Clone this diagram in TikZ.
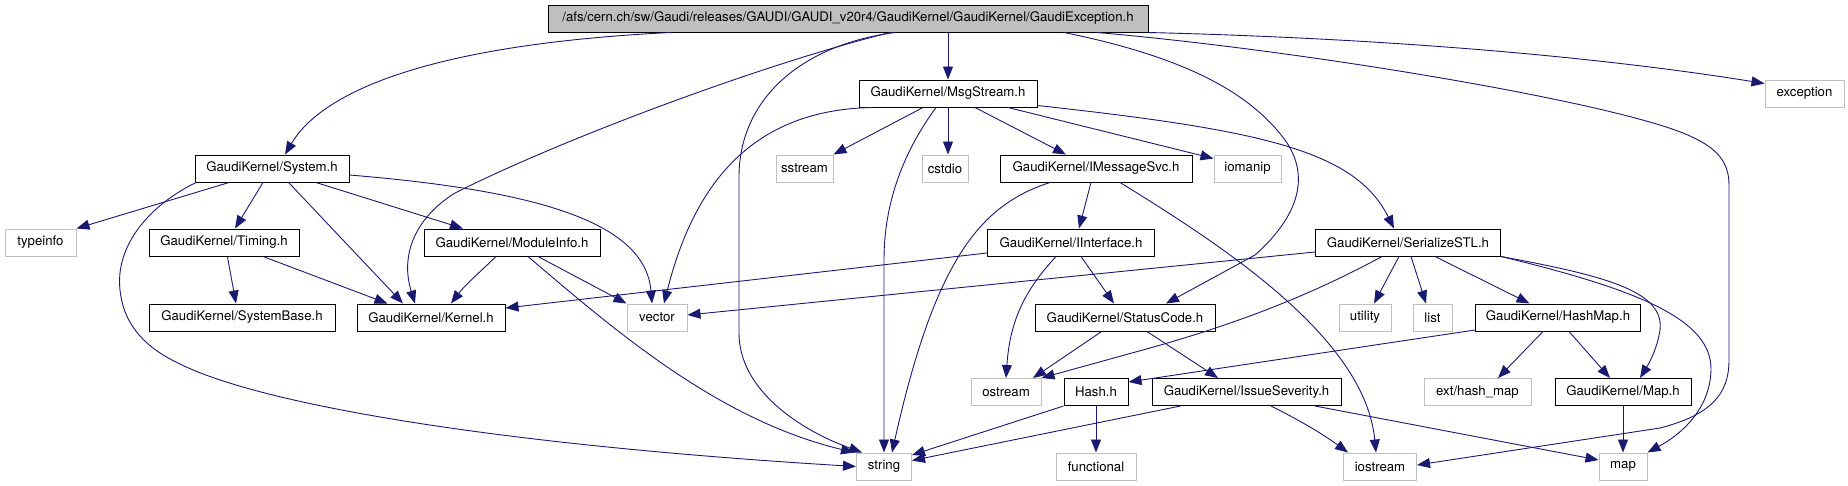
\documentclass[tikz,border=0pt]{standalone}
\usepackage{fontspec}
\usetikzlibrary{arrows.meta}
\newfontfamily\dxfont{TeX Gyre Heros}
\definecolor{edgeblue}{HTML}{191970}
\definecolor{extgray}{HTML}{BFBFBF}
\tikzset{
  base/.style={minimum height=27pt, inner sep=0pt, line width=1pt, fill=white,
    font={\dxfont\fontsize{13.2}{15}\selectfont}},
  dbox/.style={base, draw=black},
  ebox/.style={base, draw=extgray},
  rootbox/.style={base, draw=black, fill=extgray},
  edge/.style={draw=edgeblue, line width=0.9pt, -{Triangle[length=13pt,width=10pt]}}
}
\begin{document}
\begin{tikzpicture}[x=1pt,y=-1pt]
\useasboundingbox (0,0) rectangle (1848,485);
% row 0
\node[rootbox, minimum width=600pt] (root) at (848,18.5) {/afs/cern.ch/sw/Gaudi/releases/GAUDI/GAUDI\_v20r4/GaudiKernel/GaudiKernel/GaudiException.h};
% row 1
\node[dbox, minimum width=178pt] (msg) at (948,93.5) {GaudiKernel/MsgStream.h};
\node[ebox, minimum width=79pt] (exc) at (1804.5,93.5) {exception};
% row 2
\node[dbox, minimum width=154pt] (sys) at (272,168.5) {GaudiKernel/System.h};
\node[ebox, minimum width=57pt] (sstream) at (804.5,168.5) {sstream};
\node[ebox, minimum width=46pt] (cstdio) at (945,168.5) {cstdio};
\node[dbox, minimum width=192pt] (imsg) at (1096,168.5) {GaudiKernel/IMessageSvc.h};
\node[ebox, minimum width=67pt] (iomanip) at (1247.5,168.5) {iomanip};
% row 3
\node[ebox, minimum width=71pt] (typeinfo) at (40.5,242.5) {typeinfo};
\node[dbox, minimum width=150pt] (timing) at (224,242.5) {GaudiKernel/Timing.h};
\node[dbox, minimum width=176pt] (modinfo) at (512,242.5) {GaudiKernel/ModuleInfo.h};
\node[dbox, minimum width=167pt] (iif) at (1071,242.5) {GaudiKernel/IInterface.h};
\node[dbox, minimum width=185pt] (serial) at (1408,242.5) {GaudiKernel/SerializeSTL.h};
% row 4
\node[dbox, minimum width=186pt] (sysbase) at (242,317.5) {GaudiKernel/SystemBase.h};
\node[dbox, minimum width=148pt] (kernel) at (431,317.5) {GaudiKernel/Kernel.h};
\node[ebox, minimum width=60pt] (vector) at (657,317.5) {vector};
\node[dbox, minimum width=180pt] (status) at (1125,317.5) {GaudiKernel/StatusCode.h};
\node[ebox, minimum width=52pt] (utility) at (1365,317.5) {utility};
\node[ebox, minimum width=39pt] (list) at (1432.5,317.5) {list};
\node[dbox, minimum width=165pt] (hashmap) at (1558,317.5) {GaudiKernel/HashMap.h};
% row 5
\node[ebox, minimum width=70pt] (ostream) at (1006,392) {ostream};
\node[dbox, minimum width=64pt] (hash) at (1096,392) {Hash.h};
\node[dbox, minimum width=189pt] (issue) at (1246.5,392) {GaudiKernel/IssueSeverity.h};
\node[ebox, minimum width=107pt] (exthash) at (1477.5,392) {ext/hash\_map};
\node[dbox, minimum width=136pt] (maph) at (1623,392) {GaudiKernel/Map.h};
% row 6
\node[ebox, minimum width=55pt] (string) at (884,466.5) {string};
\node[ebox, minimum width=80pt] (functional) at (1096,466.5) {functional};
\node[ebox, minimum width=73pt] (iostream) at (1380,466.5) {iostream};
\node[ebox, minimum width=48pt] (mapstd) at (1623,466.5) {map};

% root edges
\draw[edge] ([xshift=-177.5pt]root.south) .. controls (420,45) and (320,95) .. ([xshift=13pt]sys.north);
\draw[edge] ([xshift=42pt]root.south) .. controls (760,65) and (560,140) .. (455,193) .. controls (415,218) and (400,255) .. ([xshift=-16pt]kernel.north);
\draw[edge] ([xshift=47pt]root.south) .. controls (800,45) and (739,100) .. (739,177) -- (739,333) .. controls (739,390) and (800,430) .. ([xshift=-22pt]string.north);
\draw[edge] ([xshift=100pt]root.south) -- (msg.north);
\draw[edge] (root.south east) .. controls (1450,40) and (1650,65) .. ([yshift=10pt]exc.west);
\draw[edge] ([xshift=249pt]root.south) .. controls (1300,50) and (1600,100) .. (1683,133) .. controls (1715,146) and (1729,160) .. (1729,185) -- (1729,360) .. controls (1729,395) and (1710,415) .. (1660,428) -- ([yshift=1.5pt]iostream.east);
\draw[edge] ([xshift=216pt]root.south) .. controls (1200,60) and (1255,100) .. (1285,140) .. controls (1310,175) and (1300,215) .. (1255,255) -- ([xshift=41pt]status.north);
% MsgStream edges
\draw[edge] ([xshift=-76pt]msg.south) .. controls (740,110) and (690,200) .. ([xshift=7pt]vector.north);
\draw[edge] ([xshift=-25pt]msg.south) -- (sstream.north east);
\draw[edge] (msg.south) -- ([xshift=3pt]cstdio.north);
\draw[edge] ([xshift=-12pt]msg.south) .. controls (905,150) and (884,200) .. (884,260) -- (string.north);
\draw[edge] ([xshift=27pt]msg.south) -- ([xshift=-30pt]imsg.north);
\draw[edge] ([xshift=60pt]msg.south) -- ([yshift=-4pt]iomanip.north west);
\draw[edge] ([yshift=2pt]msg.south east) .. controls (1260,130) and (1355,150) .. ([xshift=-14pt]serial.north);
% IMessageSvc edges
\draw[edge] ([xshift=-5pt]imsg.south) -- ([xshift=8pt]iif.north);
\draw[edge] ([xshift=-46pt]imsg.south) .. controls (980,205) and (935,260) .. ([xshift=8pt]string.north);
\draw[edge] ([xshift=24pt]imsg.south) .. controls (1230,250) and (1365,340) .. ([xshift=-4pt]iostream.north);
% IInterface edges
\draw[edge] ([yshift=-10.5pt]iif.west) -- ([yshift=9.5pt]kernel.east);
\draw[edge] ([xshift=-15pt]iif.south) .. controls (1025,290) and (1010,320) .. (ostream.north);
\draw[edge] ([xshift=10pt]iif.south) -- ([xshift=-11pt]status.north);
% StatusCode edges
\draw[edge] ([xshift=-23.4pt]status.south) -- ([xshift=27pt]ostream.north);
\draw[edge] ([xshift=22pt]status.south) -- ([xshift=-28.5pt]issue.north);
% Hash edges
\draw[edge] (hash.south west) -- ([yshift=11.5pt]string.east);
\draw[edge] (hash.south) -- (functional.north);
% IssueSeverity edges
\draw[edge] ([xshift=-66pt]issue.south) -- ([yshift=6pt]string.east);
\draw[edge] ([xshift=24.5pt]issue.south) .. controls (1295,418) and (1320,432) .. ([xshift=-32pt]iostream.north);
\draw[edge] ([xshift=68.5pt]issue.south) -- ([yshift=6.5pt]mapstd.west);
% SerializeSTL edges
\draw[edge] ([yshift=-9.5pt]serial.west) -- ([yshift=2.5pt]vector.east);
\draw[edge] ([xshift=-26pt]serial.south) .. controls (1320,290) and (1250,320) .. (1150,348) -- (ostream.north east);
\draw[edge] ([xshift=-9pt]serial.south) -- ([xshift=9pt]utility.north);
\draw[edge] ([xshift=3pt]serial.south) -- ([xshift=-6.5pt]list.north);
\draw[edge] ([xshift=27pt]serial.south) -- ([xshift=-28.4pt]hashmap.north);
\draw[edge] (serial.south east) .. controls (1600,275) and (1665,290) .. (1660,330) .. controls (1657,350) and (1648,365) .. ([xshift=17pt]maph.north);
\draw[edge] (serial.south east) .. controls (1640,290) and (1712,320) .. (1711,370) .. controls (1710,410) and (1680,435) .. (mapstd.north east);
% HashMap edges
\draw[edge] ([yshift=-12.5pt]hashmap.west) -- ([yshift=10pt]hash.east);
\draw[edge] ([xshift=-15pt]hashmap.south) -- ([xshift=20.5pt]exthash.north);
\draw[edge] ([xshift=11pt]hashmap.south) -- ([xshift=-13pt]maph.north);
% Map.h edge
\draw[edge] (maph.south) -- (mapstd.north);
% System edges
\draw[edge] ([xshift=-43pt]sys.south) -- (typeinfo.north east);
\draw[edge] ([xshift=-76pt]sys.south) .. controls (150,205) and (115,245) .. (120,290) .. controls (123,320) and (140,345) .. (178,363) .. controls (260,405) and (500,445) .. (string.west);
\draw[edge] ([xshift=-9pt]sys.south) -- ([xshift=11pt]timing.north);
\draw[edge] ([xshift=16.6pt]sys.south) -- ([xshift=-28pt]kernel.north);
\draw[edge] ([xshift=44pt]sys.south) -- ([xshift=-49pt]modinfo.north);
\draw[edge] ([yshift=-6.5pt]sys.east) .. controls (530,190) and (645,220) .. ([xshift=-5pt]vector.north);
% Timing edges
\draw[edge] ([xshift=3.4pt]timing.south) -- ([xshift=-6pt]sysbase.north);
\draw[edge] ([xshift=39pt]timing.south) -- ([xshift=-43.5pt]kernel.north);
% ModuleInfo edges
\draw[edge] ([xshift=-16pt]modinfo.south) .. controls (480,272) and (465,285) .. ([xshift=20pt]kernel.north);
\draw[edge] ([xshift=26pt]modinfo.south) -- (vector.north west);
\draw[edge] ([xshift=16pt]modinfo.south) .. controls (620,335) and (720,420) .. ([xshift=-2pt]string.north west);
\end{tikzpicture}
\end{document}
